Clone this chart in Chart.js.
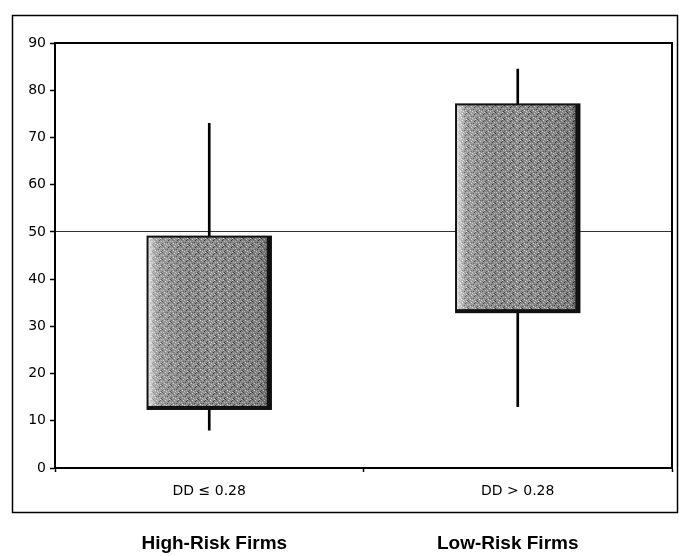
<!DOCTYPE html>
<html>
<head>
<meta charset="utf-8">
<script src="https://cdn.jsdelivr.net/npm/chart.js@4"></script>
<style>
  html, body { margin: 0; padding: 0; background: #fff; }
  #wrap { width: 679px; height: 556px; position: relative; }
</style>
</head>
<body>
<div id="wrap"><canvas id="c" width="679" height="556"></canvas></div>
<script>
// ---- data ----
const categories = ["DD \u2264 0.28", "DD > 0.28"];
const groupLabels = ["High-Risk Firms", "Low-Risk Firms"];
const boxLow = [12.5, 33];
const boxHigh = [49, 77];
const whiskerLow = [8, 13];
const whiskerHigh = [73, 84.5];
const yTicks = [0, 10, 20, 30, 40, 50, 60, 70, 80, 90];
const refLine = 50;

const TICKFONT = "'DejaVu Sans', Verdana, sans-serif";
const BOLDFONT = "'Liberation Sans', Arial, Helvetica, sans-serif";

const boxData = categories.map((c, i) => [boxLow[i], boxHigh[i]]);
const whiskerData = categories.map((c, i) => [whiskerLow[i], whiskerHigh[i]]);

let patternCache = null;
function boxFill(context) {
  const chart = context.chart;
  if (patternCache) return patternCache;
  const p = document.createElement('canvas');
  p.width = 9; p.height = 7;
  const pc = p.getContext('2d');
  pc.fillStyle = '#8c8c8c';
  pc.fillRect(0, 0, 9, 7);
  const dots = [
    [0,0,'#3c3c3c'],[3,1,'#d8d8d8'],[6,2,'#333'],[1,3,'#c0c0c0'],[5,4,'#4a4a4a'],
    [2,5,'#e0e0e0'],[8,6,'#444'],[4,6,'#cfcfcf'],[0,5,'#555'],[7,0,'#dcdcdc'],
    [3,4,'#5c5c5c'],[8,3,'#bdbdbd'],[1,1,'#666'],[6,5,'#b5b5b5'],[4,2,'#a8a8a8'],
    [7,1,'#505050'],[2,2,'#787878'],[5,0,'#b0b0b0']
  ];
  dots.forEach(d => { pc.fillStyle = d[2]; pc.fillRect(d[0], d[1], 1, 1); });
  patternCache = chart.ctx.createPattern(p, 'repeat');
  return patternCache;
}

const framePlugin = {
  id: 'frame',
  beforeDraw(chart) {
    const ctx = chart.ctx;
    ctx.save();
    ctx.fillStyle = '#fff';
    ctx.fillRect(0, 0, chart.width, chart.height);
    ctx.restore();
  },
  afterDatasetsDraw(chart) {
    const ctx = chart.ctx;
    const meta = chart.getDatasetMeta(1);
    ctx.save();
    meta.data.forEach(bar => {
      const w = bar.width;
      const left = bar.x - w / 2;
      const top = Math.min(bar.y, bar.base);
      const h = Math.abs(bar.base - bar.y);
      const g = ctx.createLinearGradient(left, 0, left + w, 0);
      g.addColorStop(0, 'rgba(255,255,255,0.85)');
      g.addColorStop(0.07, 'rgba(255,255,255,0.2)');
      g.addColorStop(0.5, 'rgba(0,0,0,0.0)');
      g.addColorStop(0.93, 'rgba(0,0,0,0.1)');
      g.addColorStop(1, 'rgba(0,0,0,0.5)');
      ctx.fillStyle = g;
      ctx.fillRect(left, top, w, h);
      ctx.strokeStyle = '#111';
      ctx.lineWidth = 2;
      ctx.strokeRect(left, top, w, h);
      ctx.fillStyle = '#111';
      ctx.fillRect(left + w - 4, top, 4, h);
      ctx.fillRect(left, top + h - 3, w, 3);
    });
    ctx.restore();
  },
  afterDraw(chart) {
    const ctx = chart.ctx;
    const a = chart.chartArea;
    ctx.save();
    ctx.strokeStyle = '#000';
    ctx.lineWidth = 2;
    ctx.strokeRect(a.left, a.top, a.right - a.left, a.bottom - a.top);
    // outer frame
    ctx.lineWidth = 1.5;
    ctx.strokeRect(12.5, 15.5, 665, 497);
    // group labels
    ctx.fillStyle = '#000';
    ctx.font = "bold 19px " + BOLDFONT;
    ctx.textAlign = 'center';
    ctx.textBaseline = 'alphabetic';
    const xs = chart.scales.x;
    const offsets = [5, -10];
    groupLabels.forEach((t, i) => {
      ctx.fillText(t, xs.getPixelForValue(i) + offsets[i], 549);
    });
    ctx.restore();
  }
};

new Chart(document.getElementById('c'), {
  type: 'bar',
  data: {
    labels: categories,
    datasets: [
      {
        label: 'Range',
        data: whiskerData,
        backgroundColor: '#000',
        borderWidth: 0,
        barThickness: 2,
        grouped: false,
        order: 2
      },
      {
        label: 'Interquartile',
        data: boxData,
        backgroundColor: boxFill,
        borderWidth: 0,
        borderSkipped: false,
        barPercentage: 0.4,
        categoryPercentage: 1.0,
        grouped: false,
        order: 1
      }
    ]
  },
  options: {
    responsive: false,
    animation: false,
    devicePixelRatio: 1,
    layout: { padding: { top: 43, right: 7, left: 0, bottom: 0 } },
    plugins: {
      legend: { display: false },
      tooltip: { enabled: false }
    },
    scales: {
      x: {
        offset: true,
        grid: {
          offset: true,
          display: true,
          color: 'rgba(0,0,0,0)',
          drawOnChartArea: false,
          drawTicks: true,
          tickColor: '#000',
          tickLength: 4,
          tickWidth: 1.5
        },
        border: { display: true, color: '#000', width: 2 },
        ticks: {
          color: '#000',
          font: { family: TICKFONT, size: 14 },
          padding: 11
        },
        afterFit(scale) { scale.height = 88; }
      },
      y: {
        min: 0,
        max: 90,
        afterBuildTicks(scale) { scale.ticks = yTicks.map(v => ({ value: v })); },
        grid: {
          drawTicks: true,
          tickLength: 5,
          tickColor: '#000',
          tickWidth: 1.5,
          color: ctx => (ctx.tick && ctx.tick.value === refLine) ? '#333' : 'rgba(0,0,0,0)',
          lineWidth: 1
        },
        border: { display: true, color: '#000', width: 2 },
        ticks: {
          color: '#000',
          font: { family: TICKFONT, size: 14 },
          padding: 4
        },
        afterFit(scale) { scale.width = 55; }
      }
    }
  },
  plugins: [framePlugin]
});
</script>
</body>
</html>
